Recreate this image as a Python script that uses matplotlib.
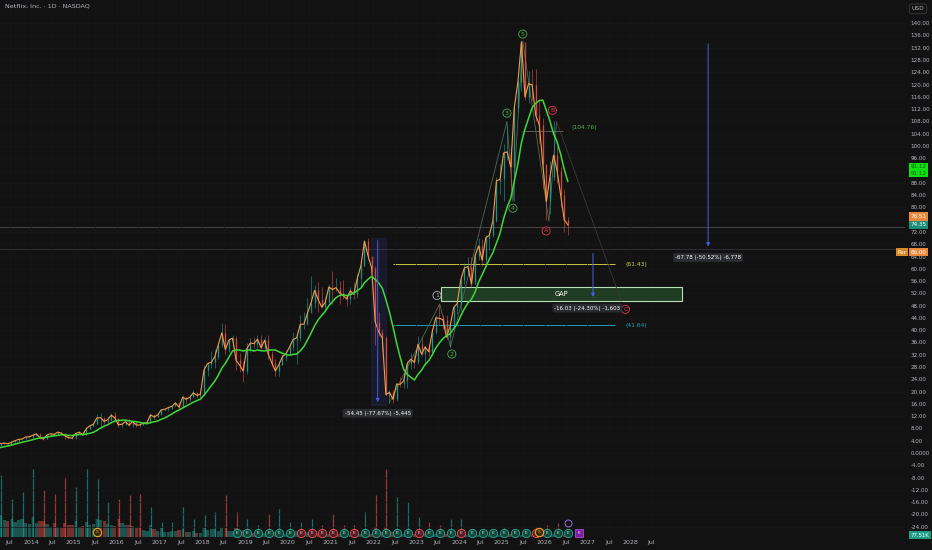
import matplotlib
matplotlib.use("Agg")
import matplotlib.pyplot as plt
import matplotlib.transforms as mtransforms
from matplotlib.patches import Rectangle
import numpy as np
import pandas as pd

# ---- data: monthly, split adjusted, Jan 2012 .. Jul 2026 ----
close = [
    1.72, 1.58, 1.64, 1.15, 0.91, 0.98, 0.81, 0.86, 0.78, 1.14, 1.17, 1.32,            # 2012
    2.36, 2.69, 2.70, 3.09, 3.23, 3.02, 3.49, 4.00, 4.42, 4.57, 5.21, 5.26,            # 2013
    5.78, 6.24, 5.03, 4.58, 5.87, 6.29, 6.04, 6.82, 6.45, 5.59, 4.98, 4.88,            # 2014
    6.34, 6.78, 5.95, 7.93, 8.85, 9.38, 11.46, 11.48, 10.33, 10.84, 12.32, 11.44,      # 2015
    9.18, 9.37, 10.22, 9.04, 10.28, 9.15, 9.13, 9.77, 9.86, 12.46, 11.72, 12.38,       # 2016
    14.04, 14.24, 14.78, 15.22, 16.34, 14.94, 18.16, 17.51, 18.14, 19.60, 18.77, 19.20,  # 2017
    27.05, 29.12, 29.53, 31.22, 35.13, 39.14, 33.73, 36.79, 37.41, 30.15, 28.64, 26.77,  # 2018
    33.96, 35.81, 35.66, 37.06, 34.31, 36.73, 32.30, 29.38, 26.76, 28.74, 31.41, 32.36,  # 2019
    34.56, 36.96, 37.55, 41.95, 41.95, 45.50, 48.87, 52.94, 50.01, 47.55, 49.05, 54.07,  # 2020
    53.26, 53.86, 52.17, 51.31, 50.22, 52.82, 51.76, 56.91, 61.03, 69.01, 64.23, 60.24,  # 2021
    42.74, 39.47, 37.46, 19.04, 19.75, 17.49, 22.46, 22.36, 23.54, 29.18, 30.59, 29.49,  # 2022
    35.39, 32.22, 34.55, 32.99, 39.52, 44.05, 43.90, 43.38, 37.76, 41.17, 47.40, 48.69,  # 2023
    56.41, 60.24, 60.73, 55.06, 64.18, 67.49, 62.83, 70.11, 70.93, 75.62, 88.70, 89.13,  # 2024
    97.69, 98.10, 93.25, 112.53, 120.72, 133.91, 115.97, 120.34, 119.89, 110.00, 107.00, 94.00,  # 2025
    82.00, 90.00, 97.00, 92.00, 84.00, 76.00, 74.35,                                    # 2026
]
high = [
    1.90, 1.76, 1.78, 1.66, 1.17, 1.05, 1.20, 0.95, 0.90, 1.18, 1.25, 1.40,
    2.40, 2.80, 2.80, 3.30, 3.50, 3.40, 3.86, 4.10, 4.64, 5.00, 5.27, 5.35,
    6.09, 6.61, 6.50, 5.27, 6.08, 6.43, 6.50, 6.86, 6.92, 6.66, 5.56, 5.18,
    6.60, 7.05, 6.89, 8.20, 9.15, 9.86, 12.60, 12.90, 11.84, 11.59, 12.97, 13.34,
    11.18, 9.80, 10.55, 11.05, 10.38, 10.28, 9.90, 9.90, 10.04, 12.77, 12.60, 13.00,
    14.43, 14.49, 14.97, 15.32, 16.59, 16.60, 18.84, 18.40, 18.93, 20.47, 19.85, 19.90,
    28.69, 29.78, 33.30, 33.80, 35.37, 42.36, 41.93, 37.59, 38.60, 38.09, 32.56, 29.94,
    35.81, 37.40, 37.90, 38.56, 38.52, 37.92, 38.57, 33.25, 30.70, 29.97, 32.40, 33.56,
    35.93, 39.34, 39.20, 44.97, 45.94, 50.45, 57.52, 54.68, 55.73, 54.17, 51.09, 54.90,
    59.33, 56.85, 55.99, 56.42, 51.80, 54.10, 55.60, 58.34, 61.50, 69.04, 70.10, 63.00,
    60.90, 45.80, 40.30, 38.00, 20.50, 20.40, 22.90, 24.90, 25.90, 30.10, 32.50, 32.00,
    37.95, 37.90, 34.70, 34.90, 40.85, 44.80, 48.57, 44.80, 44.80, 42.70, 48.00, 50.05,
    57.90, 61.80, 63.90, 63.93, 64.65, 69.90, 69.70, 70.91, 72.70, 77.00, 89.98, 94.10,
    100.80, 106.40, 99.80, 112.60, 121.50, 134.16, 130.00, 124.50, 125.00, 125.00, 115.00, 109.00,
    94.00, 95.00, 108.00, 100.00, 93.00, 86.00, 77.00,
]
low = [
    1.28, 1.54, 1.45, 1.11, 0.90, 0.86, 0.80, 0.77, 0.73, 0.78, 1.05, 1.14,
    1.31, 2.23, 2.55, 2.38, 3.04, 2.96, 2.99, 3.52, 3.95, 4.19, 4.55, 5.05,
    4.75, 5.67, 4.71, 4.21, 4.46, 5.86, 5.95, 5.98, 6.26, 4.61, 4.90, 4.50,
    4.56, 6.32, 5.94, 5.96, 7.96, 8.86, 9.41, 8.55, 9.32, 9.28, 10.40, 10.53,
    8.49, 8.50, 9.09, 8.90, 8.62, 8.52, 8.43, 9.09, 9.38, 9.68, 11.10, 11.60,
    12.73, 13.85, 13.80, 14.38, 15.20, 14.41, 14.88, 16.42, 17.00, 18.22, 18.05, 17.82,
    19.56, 25.02, 27.53, 27.55, 30.62, 34.40, 32.14, 32.75, 34.67, 27.15, 26.23, 23.13,
    25.65, 33.00, 34.31, 34.14, 33.98, 33.78, 30.54, 28.50, 25.23, 25.24, 28.68, 29.83,
    32.00, 33.62, 29.00, 36.45, 40.51, 41.65, 46.85, 47.22, 45.84, 47.14, 46.30, 48.75,
    48.50, 52.74, 48.50, 50.12, 47.80, 48.67, 50.20, 50.53, 54.24, 61.02, 63.00, 58.80,
    35.14, 38.00, 33.14, 19.00, 16.26, 16.26, 16.83, 21.60, 21.10, 21.10, 27.50, 27.75,
    29.10, 31.71, 28.55, 31.61, 32.70, 38.70, 42.10, 40.40, 37.20, 34.47, 40.40, 45.20,
    46.11, 55.20, 58.10, 54.22, 55.60, 63.00, 60.90, 60.43, 66.10, 70.34, 75.40, 84.30,
    82.20, 95.30, 85.60, 82.10, 111.00, 118.00, 115.00, 114.00, 115.00, 108.00, 101.00, 86.00,
    76.00, 78.00, 89.00, 88.00, 80.00, 72.00, 71.00,
]
# relative volume (monthly base level)
volume = [
    25, 22, 20, 24, 20, 18, 22, 16, 15, 20, 16, 14,
    24, 20, 20, 22, 17, 16, 18, 15, 17, 18, 14, 13,
    20, 14, 16, 16, 13, 10, 14, 10, 9, 14, 12, 12,
    16, 10, 11, 15, 12, 13, 18, 17, 16, 13, 12, 11,
    18, 14, 12, 12, 11, 9, 10, 7, 6, 12, 8, 6,
    9, 5, 5, 6, 6, 7, 8, 5, 5, 6, 4, 4,
    9, 7, 8, 8, 6, 9, 9, 6, 6, 9, 7, 7,
    7, 4, 4, 5, 4, 4, 6, 5, 5, 6, 4, 3,
    5, 4, 6, 6, 4, 5, 6, 4, 4, 4, 3, 3,
    5, 3, 3, 4, 3, 2, 3, 2, 3, 4, 3, 3,
    10, 6, 5, 10, 6, 5, 4, 3, 3, 4, 3, 3,
    5, 3, 4, 3, 3, 3, 3, 2, 3, 4, 2, 2,
    3, 2, 2, 3, 2, 2, 2, 2, 2, 3, 3, 2,
    2, 2, 3, 3, 2, 2, 2, 2, 2, 3, 2, 3,
    3, 2, 3, 3, 2, 2, 2,
]
# earnings-day volume spikes, quarterly Apr 2013 .. Jul 2026
earn_volume = [
    62, 38, 45,
    68, 47, 43, 60,
    50, 68, 58, 35,
    38, 42, 43, 30,
    15, 15, 30, 18,
    22, 25, 42, 25,
    18, 12, 23, 28,
    15, 15, 18, 12,
    23, 12, 12, 25,
    42, 68, 40, 35,
    20, 15, 12, 18,
    18, 8, 6, 8,
    10, 8, 8, 10,
    12, 14, 6,
]
# earnings result badges from Oct 2018 on (G = beat, R = miss)
earn_result = list("GGGGGGRRRRGRGGGGGRGGGRGGGGGGRGGG")
split_dates = [2015.54, 2025.88]

# Elliott wave pivots
wave_t = [2022.37, 2023.55, 2023.80, 2025.12, 2025.26, 2025.49, 2026.10, 2026.28, 2027.79]
wave_p = [16.3, 48.6, 34.5, 108.0, 82.0, 134.2, 75.5, 108.0, 49.5]
wave_lbl = ["", "1", "2", "3", "4", "5", "A", "B", "C"]

# horizontal levels
lvl_yellow, lvl_cyan, lvl_wave = 61.43, 41.64, 104.76
last_price, ref_price = 73.6, 66.38
gap_low, gap_high = 49.5, 54.1
gap_t0, gap_t1 = 2023.58, 2029.21

# price range measurements (t, from, to)
measures = [(2022.10, 70.10, 15.65), (2027.13, 65.96, 49.93), (2029.82, 134.16, 66.38)]

x_tick_labels = ["Jul", "2014", "Jul", "2015", "Jul", "2016", "Jul", "2017", "Jul", "2018",
                 "Jul", "2019", "Jul", "2020", "Jul", "2021", "Jul", "2022", "Jul", "2023",
                 "Jul", "2024", "Jul", "2025", "Jul", "2026", "Jul", "2027", "Jul", "2028", "Jul"]

# ---- styling ----
BG = "#121212"
TXT = "#b2b5be"
UP, DN = "#26a69a", "#ef5350"
ORANGE = "#f39c45"
MA_GREEN = "#3fd83a"
BLUE = "#4a5be0"
WGREEN, WRED = "#4caf50", "#e53950"

months = pd.period_range("2012-01", periods=len(close), freq="M")
t = np.array([m.year + (m.month - 0.5) / 12 for m in months])
c = np.array(close); h = np.array(high); l = np.array(low)
o = np.r_[c[0], c[:-1]]
up = c >= o
ma = pd.Series(c).rolling(9).mean().values

earn_months = pd.period_range("2013-04", periods=len(earn_volume), freq="3M")
earn_t = np.array([m.year + (m.month - 1) / 12 + 0.055 for m in earn_months])

fig = plt.figure(figsize=(9.32, 5.5), dpi=100, facecolor=BG)
rect = [0, 13 / 550, 905 / 932, 537 / 550]
ax_vol = fig.add_axes(rect)
ax = fig.add_axes(rect)
ax_vol.set_axis_off()
ax.set_facecolor("none")
XL = (2013.276, 2034.42)
ax.set_xlim(*XL); ax_vol.set_xlim(*XL)
ax.set_ylim(-27.36, 147.56)
for s in ax.spines.values():
    s.set_visible(False)

# volume
vol_col = np.where(up, UP, DN)
ax_vol.bar(t, volume, width=1 / 12 * 0.9, color=vol_col, alpha=0.45, linewidth=0)
eidx = [(m.year - 2012) * 12 + m.month - 1 for m in earn_months]
ax_vol.vlines(earn_t, 0, earn_volume, colors=vol_col[eidx], lw=0.9, alpha=0.6)
ax_vol.set_ylim(0, max(earn_volume) / 0.127)

# axes ticks (labels hidden where a price tag sits on top)
yt = np.arange(-24, 141, 4)
hidden = {92, 76}
ax.set_yticks(yt)
ax.set_yticklabels(["" if v in hidden else ("0.0000" if v == 0 else f"{v:.2f}") for v in yt])
xt = [m.year + (m.month - 1) / 12 for m in pd.period_range("2013-07", periods=len(x_tick_labels), freq="6M")]
ax.set_xticks(xt)
ax.set_xticklabels(x_tick_labels)
ax.yaxis.tick_right()
ax.tick_params(axis="y", labelsize=4.1, colors=TXT, length=0, pad=4)
ax.tick_params(axis="x", labelsize=4.5, colors=TXT, length=0, pad=2)
ax.grid(True, color="#171717", lw=0.5, zorder=0)

# horizontal reference lines
ax.axhline(last_price, color="#5a5a5a", lw=0.5, zorder=1)
ax.axhline(ref_price, color="#3c3c3c", lw=0.5, zorder=1)
ax.hlines(lvl_yellow, 2022.46, 2027.64, color="#c8c83c", lw=0.7, zorder=1)
ax.hlines(lvl_cyan, 2022.46, 2027.64, color="#1f9fb3", lw=0.7, zorder=1)
ax.hlines(lvl_wave, 2025.47, 2026.43, color="#6a6a6a", lw=0.6, zorder=1)
ax.text(2027.88, lvl_yellow, f"({lvl_yellow:.2f})", color="#d6d33a", fontsize=4.3, va="center", ha="left")
ax.text(2027.88, lvl_cyan, f"({lvl_cyan:.2f})", color="#1f9fb3", fontsize=4.3, va="center", ha="left")
ax.text(2026.62, lvl_wave + 1.2, f"({lvl_wave:.2f})", color=WGREEN, fontsize=4.3, va="center", ha="left")

# gap box
ax.add_patch(Rectangle((gap_t0, gap_low), gap_t1 - gap_t0, gap_high - gap_low,
                       fc="#1f3d22", ec="#b9dcb9", lw=0.8, zorder=2))
ax.text((gap_t0 + gap_t1) / 2, (gap_low + gap_high) / 2, "GAP", color="white",
        fontsize=4.8, ha="center", va="center", zorder=3)

# candles
cols = np.where(up, UP, DN)
ax.vlines(t, l, h, colors=cols, lw=0.5, alpha=0.75, zorder=3)
ax.vlines(t, np.minimum(o, c), np.maximum(o, c), colors=cols, lw=1.0, alpha=0.7, zorder=3)
ax.plot(t, c, color=ORANGE, lw=0.8, zorder=4)
ax.plot(t, ma, color=MA_GREEN, lw=1.1, zorder=5)

# wave zigzag
ax.plot(wave_t[:-1], wave_p[:-1], color="#4e6b52", lw=0.6, zorder=2)
ax.plot(wave_t[-2:], wave_p[-2:], color="#3a3a3a", lw=0.6, zorder=2)
offs = {"1": (-2, 6), "2": (1, -5), "3": (0, 6), "4": (0, -5), "5": (0, 5),
        "A": (-2, -7), "B": (-3, 8), "C": (3, -6)}
for wt, wp, lab in zip(wave_t, wave_p, wave_lbl):
    if not lab:
        continue
    col = WRED if lab in "ABC" else (TXT if lab == "1" else WGREEN)
    ax.annotate(lab, (wt, wp), xytext=offs[lab], textcoords="offset points",
                ha="center", va="center", fontsize=4.5, color=col, zorder=7,
                bbox=dict(boxstyle="circle,pad=0.25", fc=BG, ec=col, lw=0.6))

# price range measurements
for i, (mt, p0, p1) in enumerate(measures):
    d = p1 - p0
    if i == 0:
        ax.add_patch(Rectangle((mt - 0.16, p1), 0.36, p0 - p1, fc=BLUE, alpha=0.12,
                               ec=BLUE, lw=0.6, zorder=2))
    ax.annotate("", xy=(mt, p1), xytext=(mt, p0), zorder=6,
                arrowprops=dict(arrowstyle="-|>", color=BLUE, lw=0.7, mutation_scale=5))
    ax.annotate(f"{d:.2f} ({d / p0 * 100:.2f}%) {d * 100:,.0f}", (mt, p1),
                xytext=(-4 if i == 1 else 0, -6), textcoords="offset points", ha="center", va="center",
                fontsize=4.0, color="white", zorder=8,
                bbox=dict(boxstyle="round,pad=0.35", fc="#2a2b30", ec="none"))

# event badges on the volume strip
bt = mtransforms.blended_transform_factory(ax.transData, ax.transAxes)
for et, res in zip(earn_t[-len(earn_result):], earn_result):
    fc, ec = ("#0e4a3a", "#26a69a") if res == "G" else ("#5a1a26", "#ef5350")
    ax.plot(et, 0.008, "o", ms=6, mfc=fc, mec=ec, mew=0.6, transform=bt, clip_on=False, zorder=8)
    ax.text(et, 0.008, "E", transform=bt, fontsize=3.2, color="#d8d8d8",
            ha="center", va="center", zorder=9, clip_on=False)
for st in split_dates:
    ax.plot(st, 0.01, "o", ms=6, mfc="#3a2a10", mec="#f2a31b", mew=0.8, transform=bt,
            clip_on=False, zorder=9)
    ax.text(st, 0.01, "S", transform=bt, fontsize=3.2, color="#f2a31b",
            ha="center", va="center", zorder=10, clip_on=False)
ax.plot(2026.80, 0.008, "s", ms=6, mfc="#7b1fa2", mec="#b04ad0", mew=0.6, transform=bt,
        clip_on=False, zorder=8)
ax.text(2026.80, 0.008, "E", transform=bt, fontsize=3.2, color="#eeeeee", ha="center", va="center", zorder=9)
ax.plot(2026.55, 0.027, "o", ms=5, mfc="none", mec="#9c6ade", mew=0.7, transform=bt, zorder=8)

# right-side price labels
pt = mtransforms.blended_transform_factory(ax.transAxes, ax.transData)
ax.text(1.006, 92.2, "91.12\n91.12", transform=pt, fontsize=4.1, color="#0b5a0b", linespacing=1.3,
        ha="left", va="center", clip_on=False, bbox=dict(boxstyle="square,pad=0.3", fc="#10e010", ec="none"))
ax.text(1.006, 77.0, "76.51", transform=pt, fontsize=4.1, color="white", ha="left", va="center",
        clip_on=False, bbox=dict(boxstyle="square,pad=0.3", fc="#e98a3a", ec="none"))
ax.text(1.006, 74.3, "74.35", transform=pt, fontsize=4.1, color="white", ha="left", va="center",
        clip_on=False, bbox=dict(boxstyle="square,pad=0.3", fc="#1b8c78", ec="none"))
ax.text(1.001, 65.4, "Rsr", transform=pt, fontsize=3.9, color="white", ha="right", va="center",
        clip_on=False, bbox=dict(boxstyle="square,pad=0.3", fc="#d98a28", ec="none"))
ax.text(1.006, 65.4, "66.00", transform=pt, fontsize=4.1, color="white", ha="left", va="center",
        clip_on=False, bbox=dict(boxstyle="square,pad=0.3", fc="#e98a3a", ec="none"))
ax.text(1.006, -26.8, "77.51K", transform=pt, fontsize=3.9, color="white", ha="left", va="center",
        clip_on=False, bbox=dict(boxstyle="square,pad=0.3", fc="#1b9c86", ec="none"))

fig.text(0.985, 0.984, "USD", fontsize=4.3, color=TXT, ha="center", va="center",
         bbox=dict(boxstyle="round,pad=0.4", fc=BG, ec="#3a3a3a", lw=0.6))
fig.text(0.005, 0.989, "Netflix, Inc. \u00b7 1D \u00b7 NASDAQ", fontsize=4.6, color=TXT,
         ha="left", va="center")

fig.savefig("out.png", dpi=100, facecolor=BG)
